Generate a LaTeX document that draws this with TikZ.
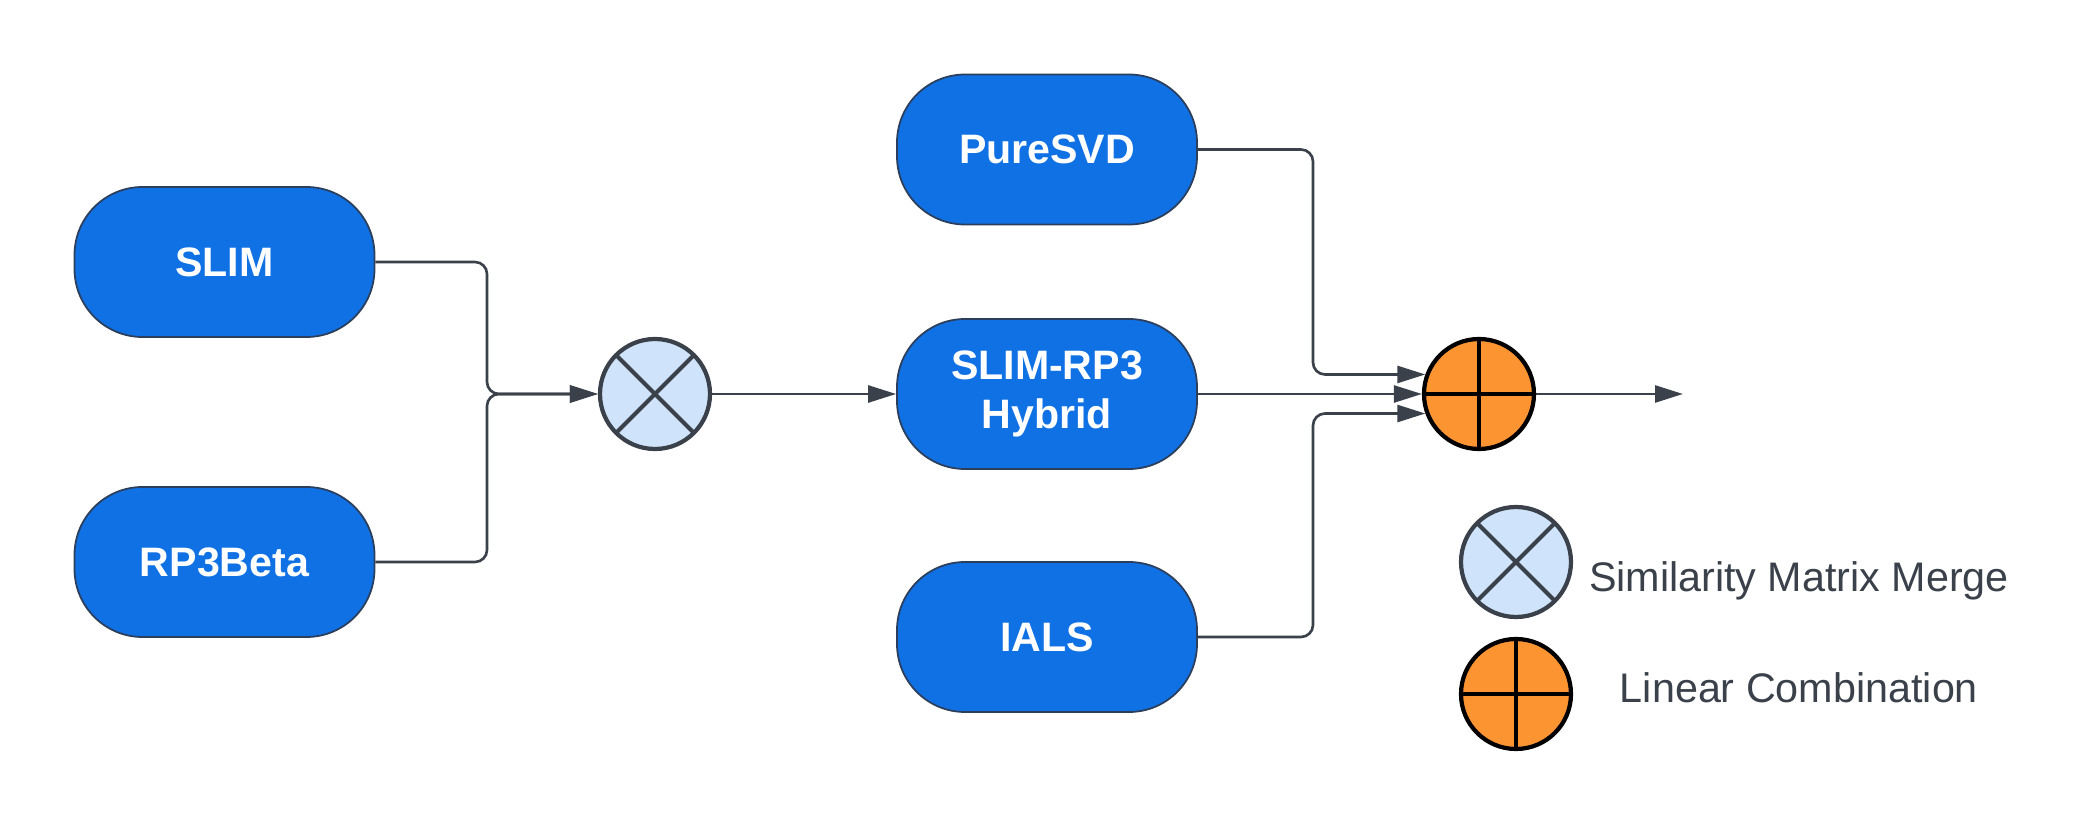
\documentclass[tikz,border=0pt]{standalone}
\usepackage{fontspec}
\setmainfont{Liberation Sans}
\usetikzlibrary{arrows.meta}
\definecolor{boxblue}{HTML}{1071E5}
\definecolor{boxline}{HTML}{2B3E5C}
\definecolor{lightblue}{HTML}{CFE4FA}
\definecolor{darkgray}{HTML}{3A414A}
\definecolor{lucidorange}{HTML}{FC9432}
\begin{document}
\begin{tikzpicture}[
    model/.style = {rectangle, rounded corners=0.68cm, draw=boxline, line width=0.5pt, fill=boxblue,
        minimum width=3cm, minimum height=1.5cm, text=white, align=center,
        font=\fontsize{11.7}{14}\selectfont\bfseries},
    merge/.style = {circle, draw=darkgray, line width=1.2pt, fill=lightblue, minimum size=1.1cm, inner sep=0pt,
        path picture={\draw[darkgray, line width=1.2pt]
            (path picture bounding box.north west) -- (path picture bounding box.south east)
            (path picture bounding box.north east) -- (path picture bounding box.south west);}},
    comb/.style = {circle, draw=black, line width=1.2pt, fill=lucidorange, minimum size=1.1cm, inner sep=0pt,
        path picture={\draw[black, line width=1.2pt]
            (path picture bounding box.north) -- (path picture bounding box.south)
            (path picture bounding box.west) -- (path picture bounding box.east);}},
    conn/.style = {draw=darkgray, line width=0.75pt, rounded corners=0.12cm,
        -{Triangle[length=0.28cm, width=0.17cm]}},
    legend/.style = {text=darkgray, font=\fontsize{11.75}{14}\selectfont, anchor=base}
]
\useasboundingbox (0,0) rectangle (21,8.25);

\node[model] (S) at (2.245,5.63) {SLIM};
\node[model] (R) at (2.245,2.63) {RP3Beta};
\node[model] (P) at (10.47,6.755) {PureSVD};
\node[model] (H) at (10.47,4.31) {SLIM-RP3\\Hybrid};
\node[model] (I) at (10.47,1.88) {IALS};
\node[merge] (M) at (6.55,4.31) {};
\node[comb] (C) at (14.79,4.31) {};
\coordinate (J) at (4.87,4.31);
\coordinate (K) at (13.13,4.31);
\coordinate (O) at (16.83,4.31);

\draw[conn] (S.east) -| (J) -- (M.west);
\draw[conn] (R.east) -| (J) -- (M.west);
\draw[conn] (M.east) -- (H.west);
\draw[conn] (P.east) -| (K |- C.160) -- (C.160);
\draw[conn] (H.east) -- (C.west);
\draw[conn] (I.east) -| (K |- C.200) -- (C.200);
\draw[conn] (C.east) -- (O);

% legend
\node[merge] (LM) at (15.16,2.63) {};
\node[comb] (LC) at (15.16,1.31) {};
\node[legend] (TM) at (17.99,2.34) {Similarity Matrix Merge};
\node[legend] (TC) at (17.99,1.23) {Linear Combination};
\end{tikzpicture}
\end{document}
